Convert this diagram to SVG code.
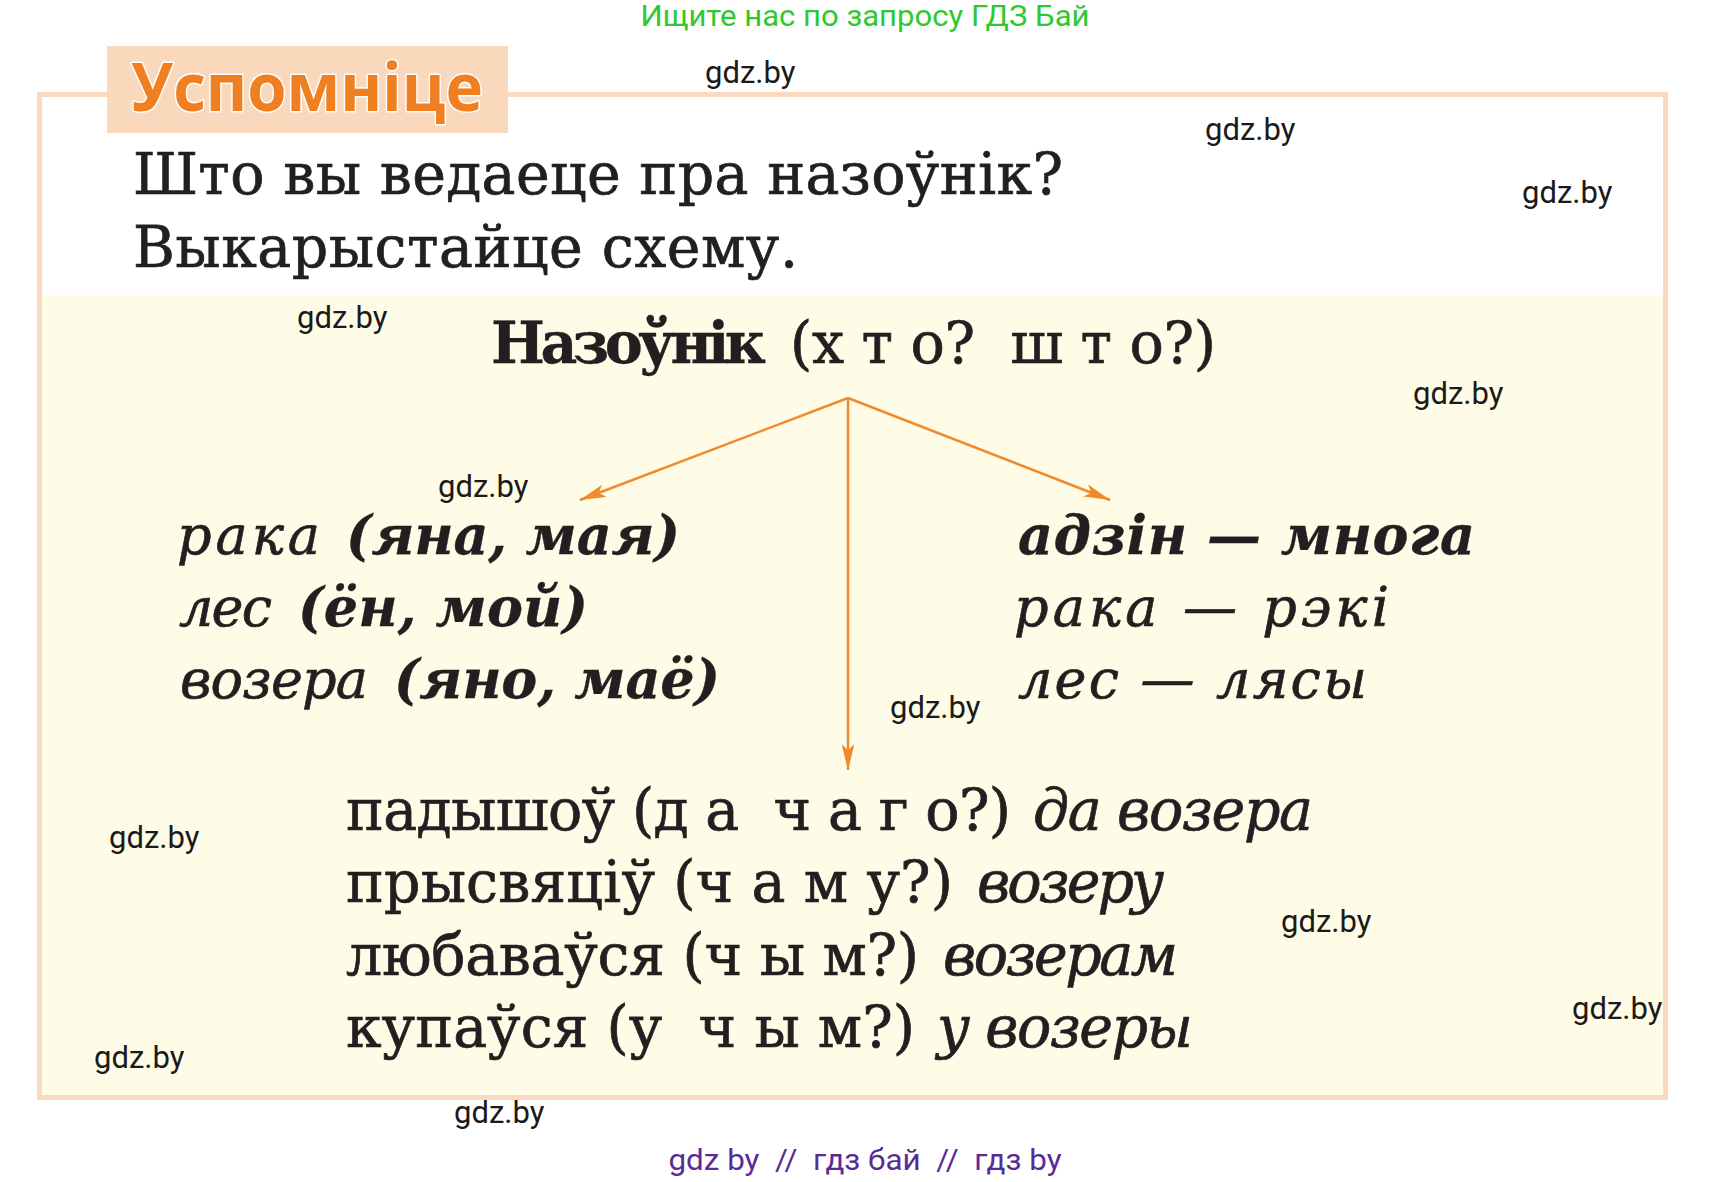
<svg xmlns="http://www.w3.org/2000/svg" width="1733" height="1182" viewBox="0 0 1733 1182">
<style>
.s{font-family:"DejaVu Serif","Liberation Serif",serif;font-size:57px;fill:#231f20;white-space:pre;stroke:#231f20;stroke-width:0.7}
.b{font-weight:bold;stroke-width:0.3}
.i{font-style:italic}
.c{font-size:54px}
.wm{font-family:Roboto,"Liberation Sans",sans-serif;font-size:31px;fill:#1a1a1a}
.con{stroke:#f08a2c;stroke-width:2.5;fill:none;marker-end:url(#ah)}
</style>
<defs>
<marker id="ah" markerUnits="userSpaceOnUse" markerWidth="30" markerHeight="16" refX="26" refY="7" orient="auto">
<path d="M0,0.5 L26,7 L0,13.5 L6,7 Z" fill="#f08a2c"/>
</marker>
</defs>
<rect width="1733" height="1182" fill="#ffffff"/>
<text x="865" y="26" text-anchor="middle" font-family="Roboto,'Liberation Sans',sans-serif" font-size="29" fill="#2fc92f" textLength="449" lengthAdjust="spacingAndGlyphs">Ищите нас по запросу ГДЗ Бай</text>

<g id="frame">
<rect x="39.5" y="94.5" width="1626" height="1003" fill="#ffffff" stroke="#f9d9c0" stroke-width="5"/>
<rect x="42" y="295" width="1621" height="800" fill="#fefce6"/>
</g>

<g id="header">
<rect x="107" y="46" width="401" height="87" fill="#fad8bb"/>
<text x="131" y="111" font-family="'Open Sans','Noto Sans',sans-serif" font-weight="bold" font-size="66" fill="#ef7f20" stroke="#ffffff" stroke-width="3" paint-order="stroke" stroke-linejoin="round" textLength="352" lengthAdjust="spacingAndGlyphs">Успомніце</text>
</g>

<g id="question">
<text class="s" x="133" y="194" textLength="930" lengthAdjust="spacing">Што вы ведаеце пра назоўнік?</text>
<text class="s" x="133" y="267" textLength="665" lengthAdjust="spacing">Выкарыстайце схему.</text>
</g>

<g id="root">
<text class="s b" x="491" y="363" textLength="275" lengthAdjust="spacing">Назоўнік</text>
<text class="s" x="790" y="363" textLength="426" lengthAdjust="spacing">(х т о?  ш т о?)</text>
</g>

<g id="connectors">
<line class="con" x1="848" y1="398" x2="580" y2="500"/>
<line class="con" x1="848" y1="398" x2="1110" y2="500"/>
<line class="con" x1="848" y1="398" x2="848" y2="770"/>
</g>

<g id="gender">
<text class="s i c" x="177" y="554" textLength="143" lengthAdjust="spacing">рака</text>
<text class="s i b c" x="346" y="554" textLength="334" lengthAdjust="spacing">(яна, мая)</text>
<text class="s i c" x="179" y="626" textLength="93" lengthAdjust="spacing">лес</text>
<text class="s i b c" x="298" y="626" textLength="290" lengthAdjust="spacing">(ён, мой)</text>
<text class="s i c" x="180" y="698" textLength="188" lengthAdjust="spacing">возера</text>
<text class="s i b c" x="394" y="698" textLength="326" lengthAdjust="spacing">(яно, маё)</text>
</g>

<g id="number">
<text class="s i b c" x="1018" y="554" textLength="457" lengthAdjust="spacing">адзін — многа</text>
<text class="s i c" x="1014" y="626" textLength="375" lengthAdjust="spacing">рака — рэкі</text>
<text class="s i c" x="1018" y="698" textLength="349" lengthAdjust="spacing">лес — лясы</text>
</g>

<g id="cases">
<text class="s" x="346" y="830" textLength="665" lengthAdjust="spacing">падышоў (д а  ч а г о?)</text>
<text class="s i" x="1033" y="830" textLength="280" lengthAdjust="spacing">да возера</text>
<text class="s" x="346" y="902" textLength="607" lengthAdjust="spacing">прысвяціў (ч а м у?)</text>
<text class="s i" x="977" y="902" textLength="187" lengthAdjust="spacing">возеру</text>
<text class="s" x="346" y="975" textLength="573" lengthAdjust="spacing">любаваўся (ч ы м?)</text>
<text class="s i" x="943" y="975" textLength="235" lengthAdjust="spacing">возерам</text>
<text class="s" x="346" y="1047" textLength="569" lengthAdjust="spacing">купаўся (у  ч ы м?)</text>
<text class="s i" x="937" y="1047" textLength="256" lengthAdjust="spacing">у возеры</text>
</g>

<g id="watermarks">
<text class="wm" x="705" y="83">gdz.by</text>
<text class="wm" x="1205" y="140">gdz.by</text>
<text class="wm" x="1522" y="203">gdz.by</text>
<text class="wm" x="297" y="328">gdz.by</text>
<text class="wm" x="1413" y="404">gdz.by</text>
<text class="wm" x="438" y="497">gdz.by</text>
<text class="wm" x="890" y="718">gdz.by</text>
<text class="wm" x="109" y="848">gdz.by</text>
<text class="wm" x="1281" y="932">gdz.by</text>
<text class="wm" x="1572" y="1019">gdz.by</text>
<text class="wm" x="94" y="1068">gdz.by</text>
<text class="wm" x="454" y="1123">gdz.by</text>
</g>

<text x="865" y="1170" text-anchor="middle" font-family="Roboto,'Liberation Sans',sans-serif" font-size="29" fill="#5b2b95" style="white-space:pre" textLength="393" lengthAdjust="spacingAndGlyphs">gdz by  //  гдз бай  //  гдз by</text>
</svg>
